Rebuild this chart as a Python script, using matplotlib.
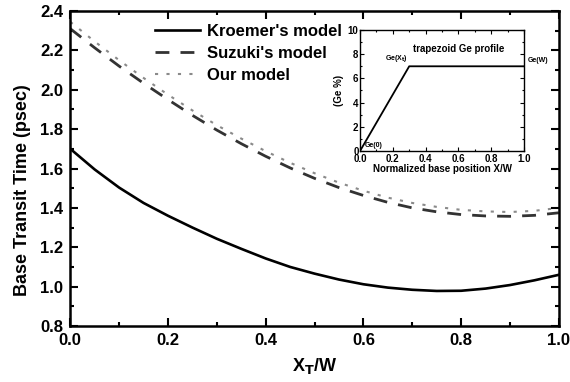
import matplotlib
matplotlib.use("Agg")
import matplotlib.pyplot as plt
from matplotlib.ticker import MultipleLocator

plt.rcParams['font.family'] = ['Liberation Sans', 'DejaVu Sans']
plt.rcParams['font.weight'] = 'bold'

# normalized position X_T/W
xt = [0.0, 0.05, 0.1, 0.15, 0.2, 0.25, 0.3, 0.35, 0.4, 0.45, 0.5,
      0.55, 0.6, 0.65, 0.7, 0.75, 0.8, 0.85, 0.9, 0.95, 1.0]
# base transit time (psec)
kroemer = [1.70, 1.595, 1.503, 1.425, 1.36, 1.30, 1.243, 1.192, 1.143, 1.10, 1.066,
           1.036, 1.012, 0.995, 0.984, 0.978, 0.979, 0.99, 1.008, 1.032, 1.06]
suzuki = [2.31, 2.213, 2.12, 2.033, 1.95, 1.87, 1.795, 1.726, 1.662, 1.603, 1.55,
          1.503, 1.463, 1.428, 1.40, 1.38, 1.366, 1.359, 1.357, 1.362, 1.375]
ours = [2.345, 2.245, 2.15, 2.06, 1.975, 1.895, 1.82, 1.752, 1.688, 1.629, 1.576,
        1.528, 1.487, 1.452, 1.425, 1.405, 1.39, 1.382, 1.379, 1.385, 1.40]

# trapezoid Ge profile
prof_x = [0.0, 0.3, 1.0]
prof_ge = [0.0, 7.0, 7.0]

fig = plt.figure(figsize=(5.7, 3.82), dpi=100)
ax = fig.add_axes([0.1233, 0.1466, 0.8571, 0.8246])

ax.plot(xt, kroemer, color='black', lw=1.9, label="Kroemer's model")
ax.plot(xt, suzuki, color='#333333', lw=2.0, linestyle=(0, (5, 4)), label="Suzuki's model")
ax.plot(xt, ours, color='#8a8a8a', lw=1.5, linestyle=(0, (1.5, 4)), label="Our model")

ax.set_xlim(0, 1.0)
ax.set_ylim(0.8, 2.4)
ax.xaxis.set_major_locator(MultipleLocator(0.2))
ax.xaxis.set_minor_locator(MultipleLocator(0.1))
ax.yaxis.set_major_locator(MultipleLocator(0.2))
ax.yaxis.set_minor_locator(MultipleLocator(0.1))
ax.tick_params(which='both', direction='in', top=True, right=True, width=1.5)
ax.tick_params(which='major', length=6, labelsize=12, pad=5)
ax.tick_params(which='minor', length=3)
for lab in ax.get_xticklabels() + ax.get_yticklabels():
    lab.set_fontweight('bold')
for s in ax.spines.values():
    s.set_linewidth(1.8)

ax.set_xlabel(r'X$_\mathbf{T}$/W', fontsize=13, fontweight='bold', labelpad=6)
ax.set_ylabel('Base Transit Time (psec)', fontsize=13, fontweight='bold')
ax.yaxis.set_label_coords(-0.08, 0.43)

leg = ax.legend(loc='upper left', bbox_to_anchor=(0.173, 0.958), frameon=False,
                prop={'size': 12, 'weight': 'bold'}, handlelength=2.7,
                handletextpad=0.45, labelspacing=0.42, borderpad=0, borderaxespad=0)

# inset
ins = fig.add_axes([0.6316, 0.6047, 0.2877, 0.3168])
ins.plot(prof_x, prof_ge, color='black', lw=1.3)
ins.set_xlim(0, 1.0)
ins.set_ylim(0, 10)
ins.xaxis.set_major_locator(MultipleLocator(0.2))
ins.xaxis.set_minor_locator(MultipleLocator(0.1))
ins.yaxis.set_major_locator(MultipleLocator(2))
ins.yaxis.set_minor_locator(MultipleLocator(1))
ins.tick_params(which='both', direction='in', top=True, right=True, width=0.8)
ins.tick_params(which='major', length=3, labelsize=7, pad=1)
ins.tick_params(axis='x', which='major', pad=2)
ins.tick_params(which='minor', length=1.5)
for lab in ins.get_xticklabels() + ins.get_yticklabels():
    lab.set_fontweight('bold')
for s in ins.spines.values():
    s.set_linewidth(1.0)
ins.set_xlabel('Normalized base position X/W', fontsize=7, fontweight='bold', labelpad=0)
ins.set_ylabel('(Ge %)', fontsize=7, fontweight='bold', labelpad=3)
ins.text(0.6, 8.4, 'trapezoid Ge profile', fontsize=7, fontweight='bold', ha='center', va='center')
ins.text(0.29, 7.2, r'Ge(X$_\mathbf{t}$)', fontsize=5, fontweight='bold', ha='right', va='bottom')
ins.text(1.02, 7.2, 'Ge(W)', fontsize=5, fontweight='bold', ha='left', va='bottom')
ins.text(0.03, 0.2, 'Ge(0)', fontsize=5, fontweight='bold', ha='left', va='bottom')

fig.savefig('out.png', dpi=100)
